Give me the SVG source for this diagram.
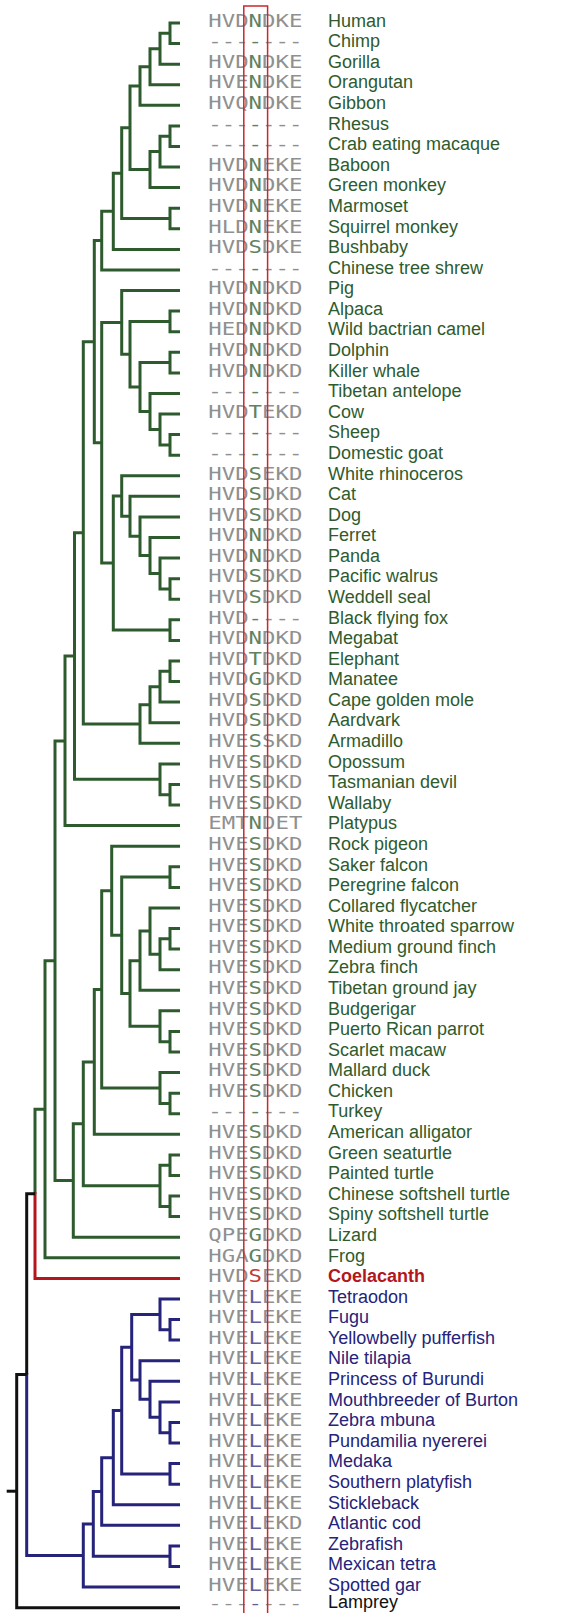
<svg xmlns="http://www.w3.org/2000/svg" width="569" height="1613" viewBox="0 0 569 1613">
<style>
.seq{font-family:"DejaVu Sans Mono","Liberation Mono",monospace;font-size:17.4px;fill:#909090}
.lab{font-family:"Liberation Sans",Arial,sans-serif;font-size:18px}
.g{fill:#2e5b2e}.b{fill:#25237a}.r{fill:#b3161b}.k{fill:#111}
.sg{fill:#5f825f}.sb{fill:#5e5e9e}.sr{fill:#c03a3a}
.tg,.tb,.tr,.tk{fill:none;stroke-width:3;stroke-linejoin:miter}
.tg{stroke:#2e5b2e}.tb{stroke:#25237a}.tr{stroke:#b3161b}.tk{stroke:#111}
</style>
<rect width="569" height="1613" fill="#fff"/>
<g id="connectors">
<g class="tg">
<path d="M180 23H170V43.6H180"/>
<path d="M170 33.3H160V64.2H180"/>
<path d="M160 48.7H150V84.7H180"/>
<path d="M150 66.7H140V105.3H180"/>
<path d="M180 125.9H170V146.5H180"/>
<path d="M170 136.2H160V167.1H180"/>
<path d="M160 151.6H150V187.6H180"/>
<path d="M140 86H130V169.6H150"/>
<path d="M180 208.2H170V228.8H180"/>
<path d="M130 127.8H121.7V218.5H170"/>
<path d="M121.7 173.2H113.3V249.4H180"/>
<path d="M113.3 211.3H101.7V270H180"/>
<path d="M180 311.1H170V331.7H180"/>
<path d="M180 352.3H170V372.9H180"/>
<path d="M180 434.6H170V455.2H180"/>
<path d="M180 414H160V444.9H170"/>
<path d="M180 393.4H150V429.5H160"/>
<path d="M170 362.6H140V411.5H150"/>
<path d="M170 321.4H130V387H140"/>
<path d="M180 290.5H121.7V354.2H130"/>
<path d="M180 578.7H170V599.2H180"/>
<path d="M180 558.1H160V589H170"/>
<path d="M180 537.5H150V573.5H160"/>
<path d="M180 516.9H140V555.5H150"/>
<path d="M180 496.3H130V536.2H140"/>
<path d="M180 475.8H121.7V516.3H130"/>
<path d="M180 619.8H170V640.4H180"/>
<path d="M121.7 496H113.3V630.1H170"/>
<path d="M121.7 322.4H101.7V563.1H113.3"/>
<path d="M101.7 240.6H94.3V442.7H101.7"/>
<path d="M180 661H170V681.6H180"/>
<path d="M170 671.3H160V702.1H180"/>
<path d="M160 686.7H150V722.7H180"/>
<path d="M150 704.7H140V743.3H180"/>
<path d="M94.3 341.7H83.3V724H140"/>
<path d="M180 784.5H170V805H180"/>
<path d="M180 763.9H160V794.8H170"/>
<path d="M83.3 532.8H74.5V779.3H160"/>
<path d="M74.5 656.1H65V825.6H180"/>
<path d="M180 866.8H170V887.4H180"/>
<path d="M180 928.5H170V949.1H180"/>
<path d="M170 938.8H160V969.7H180"/>
<path d="M180 907.9H150V954.3H160"/>
<path d="M150 931.1H140V990.3H180"/>
<path d="M180 1031.4H170V1052H180"/>
<path d="M180 1010.8H160V1041.7H170"/>
<path d="M140 960.7H130V1026.3H160"/>
<path d="M170 877.1H121.7V993.5H130"/>
<path d="M180 846.2H111.7V935.3H121.7"/>
<path d="M180 1093.2H170V1113.7H180"/>
<path d="M180 1072.6H160V1103.5H170"/>
<path d="M111.7 890.7H101.7V1088H160"/>
<path d="M101.7 989.4H94.3V1134.3H180"/>
<path d="M180 1154.9H170V1175.5H180"/>
<path d="M180 1196.1H170V1216.6H180"/>
<path d="M170 1165.2H160V1206.4H170"/>
<path d="M94.3 1061.9H83.3V1185.8H160"/>
<path d="M83.3 1123.8H73.3V1237.2H180"/>
<path d="M65 740.9H55V1180.5H73.3"/>
<path d="M55 960.7H45V1257.8H180"/>
<path d="M45 1109.2H35V1193.8"/>
</g>
<path class="tr" d="M35 1192.3V1278.4H180"/>
<g class="tb">
<path d="M180 1319.5H170V1340.1H180"/>
<path d="M180 1299H160V1329.8H170"/>
<path d="M180 1422.4H170V1443H180"/>
<path d="M180 1401.9H160V1432.7H170"/>
<path d="M180 1381.3H150V1417.3H160"/>
<path d="M180 1360.7H140V1399.3H150"/>
<path d="M160 1314.4H131.7V1380H140"/>
<path d="M180 1463.6H170V1484.2H180"/>
<path d="M131.7 1347.2H121.7V1473.9H170"/>
<path d="M121.7 1410.6H113.3V1504.8H180"/>
<path d="M113.3 1457.7H101.7V1525.3H180"/>
<path d="M180 1545.9H170V1566.5H180"/>
<path d="M101.7 1491.5H93.3V1556.2H170"/>
<path d="M93.3 1523.9H83.3V1587.1H180"/>
<path d="M26.7 1373.1V1555.5H83.3"/>
</g>
<g class="tk">
<path d="M35 1193.8H26.7V1374.6"/>
<path d="M26.7 1374.6H16.7V1607.7H180"/>
<path d="M6.7 1491.2H16.7"/>
</g>
</g>
<g id="n-human"><text class="seq" transform="translate(208.3 26.7) scale(1.283 1)">HVD<tspan class="sg">N</tspan>DKE</text><text class="lab g" x="328" y="26.7">Human</text></g>
<g id="n-chimp"><text class="seq" transform="translate(208.3 47.3) scale(1.283 1)">---<tspan class="sg">-</tspan>---</text><text class="lab g" x="328" y="47.3">Chimp</text></g>
<g id="n-gorilla"><text class="seq" transform="translate(208.3 67.9) scale(1.283 1)">HVD<tspan class="sg">N</tspan>DKE</text><text class="lab g" x="328" y="67.9">Gorilla</text></g>
<g id="n-orangutan"><text class="seq" transform="translate(208.3 88.4) scale(1.283 1)">HVE<tspan class="sg">N</tspan>DKE</text><text class="lab g" x="328" y="88.4">Orangutan</text></g>
<g id="n-gibbon"><text class="seq" transform="translate(208.3 109) scale(1.283 1)">HVQ<tspan class="sg">N</tspan>DKE</text><text class="lab g" x="328" y="109">Gibbon</text></g>
<g id="n-rhesus"><text class="seq" transform="translate(208.3 129.6) scale(1.283 1)">---<tspan class="sg">-</tspan>---</text><text class="lab g" x="328" y="129.6">Rhesus</text></g>
<g id="n-crab"><text class="seq" transform="translate(208.3 150.2) scale(1.283 1)">---<tspan class="sg">-</tspan>---</text><text class="lab g" x="328" y="150.2">Crab eating macaque</text></g>
<g id="n-baboon"><text class="seq" transform="translate(208.3 170.8) scale(1.283 1)">HVD<tspan class="sg">N</tspan>EKE</text><text class="lab g" x="328" y="170.8">Baboon</text></g>
<g id="n-greenmonkey"><text class="seq" transform="translate(208.3 191.3) scale(1.283 1)">HVD<tspan class="sg">N</tspan>DKE</text><text class="lab g" x="328" y="191.3">Green monkey</text></g>
<g id="n-marmoset"><text class="seq" transform="translate(208.3 211.9) scale(1.283 1)">HVD<tspan class="sg">N</tspan>EKE</text><text class="lab g" x="328" y="211.9">Marmoset</text></g>
<g id="n-squirrel"><text class="seq" transform="translate(208.3 232.5) scale(1.283 1)">HLD<tspan class="sg">N</tspan>EKE</text><text class="lab g" x="328" y="232.5">Squirrel monkey</text></g>
<g id="n-bushbaby"><text class="seq" transform="translate(208.3 253.1) scale(1.283 1)">HVD<tspan class="sg">S</tspan>DKE</text><text class="lab g" x="328" y="253.1">Bushbaby</text></g>
<g id="n-treeshrew"><text class="seq" transform="translate(208.3 273.7) scale(1.283 1)">---<tspan class="sg">-</tspan>---</text><text class="lab g" x="328" y="273.7">Chinese tree shrew</text></g>
<g id="n-pig"><text class="seq" transform="translate(208.3 294.2) scale(1.283 1)">HVD<tspan class="sg">N</tspan>DKD</text><text class="lab g" x="328" y="294.2">Pig</text></g>
<g id="n-alpaca"><text class="seq" transform="translate(208.3 314.8) scale(1.283 1)">HVD<tspan class="sg">N</tspan>DKD</text><text class="lab g" x="328" y="314.8">Alpaca</text></g>
<g id="n-camel"><text class="seq" transform="translate(208.3 335.4) scale(1.283 1)">HED<tspan class="sg">N</tspan>DKD</text><text class="lab g" x="328" y="335.4">Wild bactrian camel</text></g>
<g id="n-dolphin"><text class="seq" transform="translate(208.3 356) scale(1.283 1)">HVD<tspan class="sg">N</tspan>DKD</text><text class="lab g" x="328" y="356">Dolphin</text></g>
<g id="n-killerwhale"><text class="seq" transform="translate(208.3 376.6) scale(1.283 1)">HVD<tspan class="sg">N</tspan>DKD</text><text class="lab g" x="328" y="376.6">Killer whale</text></g>
<g id="n-antelope"><text class="seq" transform="translate(208.3 397.1) scale(1.283 1)">---<tspan class="sg">-</tspan>---</text><text class="lab g" x="328" y="397.1">Tibetan antelope</text></g>
<g id="n-cow"><text class="seq" transform="translate(208.3 417.7) scale(1.283 1)">HVD<tspan class="sg">T</tspan>EKD</text><text class="lab g" x="328" y="417.7">Cow</text></g>
<g id="n-sheep"><text class="seq" transform="translate(208.3 438.3) scale(1.283 1)">---<tspan class="sg">-</tspan>---</text><text class="lab g" x="328" y="438.3">Sheep</text></g>
<g id="n-goat"><text class="seq" transform="translate(208.3 458.9) scale(1.283 1)">---<tspan class="sg">-</tspan>---</text><text class="lab g" x="328" y="458.9">Domestic goat</text></g>
<g id="n-rhino"><text class="seq" transform="translate(208.3 479.5) scale(1.283 1)">HVD<tspan class="sg">S</tspan>EKD</text><text class="lab g" x="328" y="479.5">White rhinoceros</text></g>
<g id="n-cat"><text class="seq" transform="translate(208.3 500) scale(1.283 1)">HVD<tspan class="sg">S</tspan>DKD</text><text class="lab g" x="328" y="500">Cat</text></g>
<g id="n-dog"><text class="seq" transform="translate(208.3 520.6) scale(1.283 1)">HVD<tspan class="sg">S</tspan>DKD</text><text class="lab g" x="328" y="520.6">Dog</text></g>
<g id="n-ferret"><text class="seq" transform="translate(208.3 541.2) scale(1.283 1)">HVD<tspan class="sg">N</tspan>DKD</text><text class="lab g" x="328" y="541.2">Ferret</text></g>
<g id="n-panda"><text class="seq" transform="translate(208.3 561.8) scale(1.283 1)">HVD<tspan class="sg">N</tspan>DKD</text><text class="lab g" x="328" y="561.8">Panda</text></g>
<g id="n-walrus"><text class="seq" transform="translate(208.3 582.4) scale(1.283 1)">HVD<tspan class="sg">S</tspan>DKD</text><text class="lab g" x="328" y="582.4">Pacific walrus</text></g>
<g id="n-weddell"><text class="seq" transform="translate(208.3 602.9) scale(1.283 1)">HVD<tspan class="sg">S</tspan>DKD</text><text class="lab g" x="328" y="602.9">Weddell seal</text></g>
<g id="n-flyingfox"><text class="seq" transform="translate(208.3 623.5) scale(1.283 1)">HVD<tspan class="sg">-</tspan>---</text><text class="lab g" x="328" y="623.5">Black flying fox</text></g>
<g id="n-megabat"><text class="seq" transform="translate(208.3 644.1) scale(1.283 1)">HVD<tspan class="sg">N</tspan>DKD</text><text class="lab g" x="328" y="644.1">Megabat</text></g>
<g id="n-elephant"><text class="seq" transform="translate(208.3 664.7) scale(1.283 1)">HVD<tspan class="sg">T</tspan>DKD</text><text class="lab g" x="328" y="664.7">Elephant</text></g>
<g id="n-manatee"><text class="seq" transform="translate(208.3 685.3) scale(1.283 1)">HVD<tspan class="sg">G</tspan>DKD</text><text class="lab g" x="328" y="685.3">Manatee</text></g>
<g id="n-goldenmole"><text class="seq" transform="translate(208.3 705.8) scale(1.283 1)">HVD<tspan class="sg">S</tspan>DKD</text><text class="lab g" x="328" y="705.8">Cape golden mole</text></g>
<g id="n-aardvark"><text class="seq" transform="translate(208.3 726.4) scale(1.283 1)">HVD<tspan class="sg">S</tspan>DKD</text><text class="lab g" x="328" y="726.4">Aardvark</text></g>
<g id="n-armadillo"><text class="seq" transform="translate(208.3 747) scale(1.283 1)">HVE<tspan class="sg">S</tspan>SKD</text><text class="lab g" x="328" y="747">Armadillo</text></g>
<g id="n-opossum"><text class="seq" transform="translate(208.3 767.6) scale(1.283 1)">HVE<tspan class="sg">S</tspan>DKD</text><text class="lab g" x="328" y="767.6">Opossum</text></g>
<g id="n-devil"><text class="seq" transform="translate(208.3 788.2) scale(1.283 1)">HVE<tspan class="sg">S</tspan>DKD</text><text class="lab g" x="328" y="788.2">Tasmanian devil</text></g>
<g id="n-wallaby"><text class="seq" transform="translate(208.3 808.7) scale(1.283 1)">HVE<tspan class="sg">S</tspan>DKD</text><text class="lab g" x="328" y="808.7">Wallaby</text></g>
<g id="n-platypus"><text class="seq" transform="translate(208.3 829.3) scale(1.283 1)">EMT<tspan class="sg">N</tspan>DET</text><text class="lab g" x="328" y="829.3">Platypus</text></g>
<g id="n-pigeon"><text class="seq" transform="translate(208.3 849.9) scale(1.283 1)">HVE<tspan class="sg">S</tspan>DKD</text><text class="lab g" x="328" y="849.9">Rock pigeon</text></g>
<g id="n-saker"><text class="seq" transform="translate(208.3 870.5) scale(1.283 1)">HVE<tspan class="sg">S</tspan>DKD</text><text class="lab g" x="328" y="870.5">Saker falcon</text></g>
<g id="n-peregrine"><text class="seq" transform="translate(208.3 891.1) scale(1.283 1)">HVE<tspan class="sg">S</tspan>DKD</text><text class="lab g" x="328" y="891.1">Peregrine falcon</text></g>
<g id="n-flycatcher"><text class="seq" transform="translate(208.3 911.6) scale(1.283 1)">HVE<tspan class="sg">S</tspan>DKD</text><text class="lab g" x="328" y="911.6">Collared flycatcher</text></g>
<g id="n-sparrow"><text class="seq" transform="translate(208.3 932.2) scale(1.283 1)">HVE<tspan class="sg">S</tspan>DKD</text><text class="lab g" x="328" y="932.2">White throated sparrow</text></g>
<g id="n-groundfinch"><text class="seq" transform="translate(208.3 952.8) scale(1.283 1)">HVE<tspan class="sg">S</tspan>DKD</text><text class="lab g" x="328" y="952.8">Medium ground finch</text></g>
<g id="n-zebrafinch"><text class="seq" transform="translate(208.3 973.4) scale(1.283 1)">HVE<tspan class="sg">S</tspan>DKD</text><text class="lab g" x="328" y="973.4">Zebra finch</text></g>
<g id="n-groundjay"><text class="seq" transform="translate(208.3 994) scale(1.283 1)">HVE<tspan class="sg">S</tspan>DKD</text><text class="lab g" x="328" y="994">Tibetan ground jay</text></g>
<g id="n-budgerigar"><text class="seq" transform="translate(208.3 1014.5) scale(1.283 1)">HVE<tspan class="sg">S</tspan>DKD</text><text class="lab g" x="328" y="1014.5">Budgerigar</text></g>
<g id="n-prparrot"><text class="seq" transform="translate(208.3 1035.1) scale(1.283 1)">HVE<tspan class="sg">S</tspan>DKD</text><text class="lab g" x="328" y="1035.1">Puerto Rican parrot</text></g>
<g id="n-macaw"><text class="seq" transform="translate(208.3 1055.7) scale(1.283 1)">HVE<tspan class="sg">S</tspan>DKD</text><text class="lab g" x="328" y="1055.7">Scarlet macaw</text></g>
<g id="n-mallard"><text class="seq" transform="translate(208.3 1076.3) scale(1.283 1)">HVE<tspan class="sg">S</tspan>DKD</text><text class="lab g" x="328" y="1076.3">Mallard duck</text></g>
<g id="n-chicken"><text class="seq" transform="translate(208.3 1096.9) scale(1.283 1)">HVE<tspan class="sg">S</tspan>DKD</text><text class="lab g" x="328" y="1096.9">Chicken</text></g>
<g id="n-turkey"><text class="seq" transform="translate(208.3 1117.4) scale(1.283 1)">---<tspan class="sg">-</tspan>---</text><text class="lab g" x="328" y="1117.4">Turkey</text></g>
<g id="n-alligator"><text class="seq" transform="translate(208.3 1138) scale(1.283 1)">HVE<tspan class="sg">S</tspan>DKD</text><text class="lab g" x="328" y="1138">American alligator</text></g>
<g id="n-seaturtle"><text class="seq" transform="translate(208.3 1158.6) scale(1.283 1)">HVE<tspan class="sg">S</tspan>DKD</text><text class="lab g" x="328" y="1158.6">Green seaturtle</text></g>
<g id="n-paintedturtle"><text class="seq" transform="translate(208.3 1179.2) scale(1.283 1)">HVE<tspan class="sg">S</tspan>DKD</text><text class="lab g" x="328" y="1179.2">Painted turtle</text></g>
<g id="n-chinesesoftshell"><text class="seq" transform="translate(208.3 1199.8) scale(1.283 1)">HVE<tspan class="sg">S</tspan>DKD</text><text class="lab g" x="328" y="1199.8">Chinese softshell turtle</text></g>
<g id="n-spinysoftshell"><text class="seq" transform="translate(208.3 1220.3) scale(1.283 1)">HVE<tspan class="sg">S</tspan>DKD</text><text class="lab g" x="328" y="1220.3">Spiny softshell turtle</text></g>
<g id="n-lizard"><text class="seq" transform="translate(208.3 1240.9) scale(1.283 1)">QPE<tspan class="sg">G</tspan>DKD</text><text class="lab g" x="328" y="1240.9">Lizard</text></g>
<g id="n-frog"><text class="seq" transform="translate(208.3 1261.5) scale(1.283 1)">HGA<tspan class="sg">G</tspan>DKD</text><text class="lab g" x="328" y="1261.5">Frog</text></g>
<g id="n-coelacanth"><text class="seq" transform="translate(208.3 1282.1) scale(1.283 1)">HVD<tspan class="sr">S</tspan>EKD</text><text class="lab r" x="328" y="1282.1" font-weight="bold">Coelacanth</text></g>
<g id="n-tetraodon"><text class="seq" transform="translate(208.3 1302.7) scale(1.283 1)">HVE<tspan class="sb">L</tspan>EKE</text><text class="lab b" x="328" y="1302.7">Tetraodon</text></g>
<g id="n-fugu"><text class="seq" transform="translate(208.3 1323.2) scale(1.283 1)">HVE<tspan class="sb">L</tspan>EKE</text><text class="lab b" x="328" y="1323.2">Fugu</text></g>
<g id="n-yellowbelly"><text class="seq" transform="translate(208.3 1343.8) scale(1.283 1)">HVE<tspan class="sb">L</tspan>EKE</text><text class="lab b" x="328" y="1343.8">Yellowbelly pufferfish</text></g>
<g id="n-tilapia"><text class="seq" transform="translate(208.3 1364.4) scale(1.283 1)">HVE<tspan class="sb">L</tspan>EKE</text><text class="lab b" x="328" y="1364.4">Nile tilapia</text></g>
<g id="n-princess"><text class="seq" transform="translate(208.3 1385) scale(1.283 1)">HVE<tspan class="sb">L</tspan>EKE</text><text class="lab b" x="328" y="1385">Princess of Burundi</text></g>
<g id="n-mouthbreeder"><text class="seq" transform="translate(208.3 1405.6) scale(1.283 1)">HVE<tspan class="sb">L</tspan>EKE</text><text class="lab b" x="328" y="1405.6">Mouthbreeder of Burton</text></g>
<g id="n-mbuna"><text class="seq" transform="translate(208.3 1426.1) scale(1.283 1)">HVE<tspan class="sb">L</tspan>EKE</text><text class="lab b" x="328" y="1426.1">Zebra mbuna</text></g>
<g id="n-pundamilia"><text class="seq" transform="translate(208.3 1446.7) scale(1.283 1)">HVE<tspan class="sb">L</tspan>EKE</text><text class="lab b" x="328" y="1446.7">Pundamilia nyererei</text></g>
<g id="n-medaka"><text class="seq" transform="translate(208.3 1467.3) scale(1.283 1)">HVE<tspan class="sb">L</tspan>EKE</text><text class="lab b" x="328" y="1467.3">Medaka</text></g>
<g id="n-platyfish"><text class="seq" transform="translate(208.3 1487.9) scale(1.283 1)">HVE<tspan class="sb">L</tspan>EKE</text><text class="lab b" x="328" y="1487.9">Southern platyfish</text></g>
<g id="n-stickleback"><text class="seq" transform="translate(208.3 1508.5) scale(1.283 1)">HVE<tspan class="sb">L</tspan>EKE</text><text class="lab b" x="328" y="1508.5">Stickleback</text></g>
<g id="n-cod"><text class="seq" transform="translate(208.3 1529) scale(1.283 1)">HVE<tspan class="sb">L</tspan>EKD</text><text class="lab b" x="328" y="1529">Atlantic cod</text></g>
<g id="n-zebrafish"><text class="seq" transform="translate(208.3 1549.6) scale(1.283 1)">HVE<tspan class="sb">L</tspan>EKE</text><text class="lab b" x="328" y="1549.6">Zebrafish</text></g>
<g id="n-tetra"><text class="seq" transform="translate(208.3 1570.2) scale(1.283 1)">HVE<tspan class="sb">L</tspan>EKE</text><text class="lab b" x="328" y="1570.2">Mexican tetra</text></g>
<g id="n-gar"><text class="seq" transform="translate(208.3 1590.8) scale(1.283 1)">HVE<tspan class="sb">L</tspan>EKE</text><text class="lab b" x="328" y="1590.8">Spotted gar</text></g>
<g id="n-lamprey"><text class="seq" font-size="15" style="font-size:15px" transform="translate(208.3 1609.3) scale(1.488 1)">---<tspan class="sb">-</tspan>---</text><text class="lab k" x="328" y="1608.3">Lamprey</text></g>
<rect id="highlight" x="243.8" y="6" width="23.8" height="1620" fill="none" stroke="#c8282d" stroke-width="1.5"/>
</svg>
